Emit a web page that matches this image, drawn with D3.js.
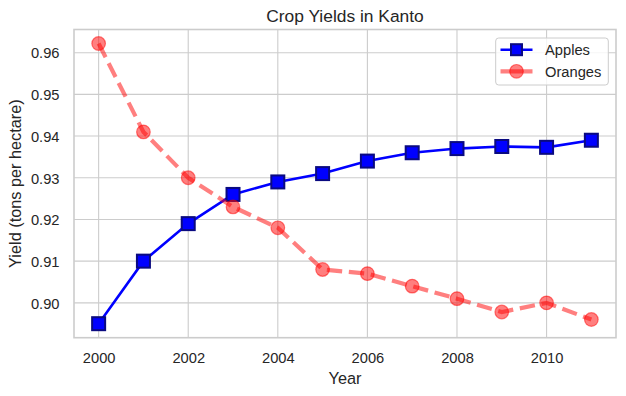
<!DOCTYPE html>
<html>
<head>
<meta charset="utf-8">
<script src="https://cdn.jsdelivr.net/npm/d3@7"></script>
<style>
  html, body { margin: 0; padding: 0; background: #fff; }
  svg { display: block; font-family: "Liberation Sans", Arial, sans-serif; }
</style>
</head>
<body>
<svg id="chart" width="626" height="396"></svg>
<script>
const years = [2000, 2001, 2002, 2003, 2004, 2005, 2006, 2007, 2008, 2009, 2010, 2011];
const apples = [0.895, 0.910, 0.919, 0.926, 0.929, 0.931, 0.934, 0.936, 0.937, 0.9375, 0.9373, 0.939];
const oranges = [0.9622, 0.941, 0.930, 0.923, 0.918, 0.908, 0.907, 0.904, 0.901, 0.8978, 0.900, 0.896];
const xTicks = [2000, 2002, 2004, 2006, 2008, 2010];
const yTicks = [0.90, 0.91, 0.92, 0.93, 0.94, 0.95, 0.96];
const seriesNames = ["Apples", "Oranges"];
const title = "Crop Yields in Kanto";
const xLabel = "Year";
const yLabel = "Yield (tons per hectare)";

const svg = d3.select("#chart");
const L = 74, R = 616, T = 29.5, B = 337.7;
const textColor = "#262626";
const gridColor = "#cccccc";
const tickFont = "14.7px", labelFont = "16.3px", titleFont = "17.4px";

const xMin = d3.min(years), xMax = d3.max(years);
const xPad = (xMax - xMin) * 0.05;
const x = d3.scaleLinear().domain([xMin - xPad, xMax + xPad]).range([L, R]);
const allY = apples.concat(oranges);
const yMin = d3.min(allY), yMax = d3.max(allY);
const yPad = (yMax - yMin) * 0.05;
const y = d3.scaleLinear().domain([yMin - yPad, yMax + yPad]).range([B, T]);

// grid
const g = svg.append("g");
g.selectAll(".vgrid").data(xTicks).enter().append("line")
  .attr("x1", d => x(d)).attr("x2", d => x(d)).attr("y1", T).attr("y2", B)
  .attr("stroke", gridColor).attr("stroke-width", 1.1);
g.selectAll(".hgrid").data(yTicks).enter().append("line")
  .attr("x1", L).attr("x2", R).attr("y1", d => y(d)).attr("y2", d => y(d))
  .attr("stroke", gridColor).attr("stroke-width", 1.1);

// axes via d3 axis (no tick lines)
const xAxis = svg.append("g").attr("transform", `translate(0,${B})`)
  .call(d3.axisBottom(x).tickValues(xTicks).tickFormat(d3.format("d")).tickSize(0).tickPadding(14.5));
const yAxis = svg.append("g").attr("transform", `translate(${L},0)`)
  .call(d3.axisLeft(y).tickValues(yTicks).tickFormat(d3.format(".2f")).tickSize(0).tickPadding(14.5));
[xAxis, yAxis].forEach(a => {
  a.select(".domain").remove();
  a.selectAll("text").attr("fill", textColor).style("font-size", tickFont)
    .style("font-family", '"Liberation Sans", Arial, sans-serif');
});
yAxis.selectAll("text").attr("dy", "0.36em");

// frame
svg.append("rect").attr("x", L).attr("y", T).attr("width", R - L).attr("height", B - T)
  .attr("fill", "none").attr("stroke", gridColor).attr("stroke-width", 1.6);

// lines
const line = d3.line().x((d, i) => x(years[i])).y(d => y(d));

// Apples
svg.append("path").datum(apples).attr("d", line)
  .attr("fill", "none").attr("stroke", "#0000ff").attr("stroke-width", 2.6);
const sq = 13;
svg.selectAll(".appleMark").data(apples).enter().append("rect")
  .attr("x", (d, i) => x(years[i]) - sq / 2).attr("y", d => y(d) - sq / 2)
  .attr("width", sq).attr("height", sq)
  .attr("fill", "#0000ff").attr("stroke", "#0a0a80").attr("stroke-width", 2);

// Oranges
svg.append("path").datum(oranges).attr("d", line)
  .attr("fill", "none").attr("stroke", "#ff0000").attr("stroke-opacity", 0.5)
  .attr("stroke-width", 4.2).attr("stroke-dasharray", "15.4,6.7");
svg.selectAll(".orangeMark").data(oranges).enter().append("circle")
  .attr("cx", (d, i) => x(years[i])).attr("cy", d => y(d)).attr("r", 6.8)
  .attr("fill", "#ff0000").attr("fill-opacity", 0.5)
  .attr("stroke", "#ff0000").attr("stroke-opacity", 0.5).attr("stroke-width", 1.2);

// title & labels
svg.append("text").attr("x", (L + R) / 2).attr("y", 22).attr("text-anchor", "middle")
  .attr("fill", textColor).style("font-size", titleFont).text(title);
svg.append("text").attr("x", (L + R) / 2).attr("y", 383.5).attr("text-anchor", "middle")
  .attr("fill", textColor).style("font-size", labelFont).text(xLabel);
svg.append("text").attr("transform", `translate(21,${(T + B) / 2}) rotate(-90)`)
  .attr("text-anchor", "middle").attr("fill", textColor).style("font-size", labelFont).text(yLabel);

// legend
const lg = svg.append("g");
lg.append("rect").attr("x", 495.7).attr("y", 38).attr("width", 112.6).attr("height", 47)
  .attr("rx", 3).attr("fill", "#ffffff").attr("fill-opacity", 0.8)
  .attr("stroke", "#cccccc").attr("stroke-width", 1);
const rows = [49.7, 71.3];
// Apples entry
lg.append("line").attr("x1", 500.5).attr("x2", 532.5).attr("y1", rows[0]).attr("y2", rows[0])
  .attr("stroke", "#0000ff").attr("stroke-width", 2.6);
lg.append("rect").attr("x", 516.5 - 5.5).attr("y", rows[0] - 5.5).attr("width", 11).attr("height", 11)
  .attr("fill", "#0000ff").attr("stroke", "#0a0a80").attr("stroke-width", 2);
// Oranges entry
lg.append("line").attr("x1", 500.5).attr("x2", 532.5).attr("y1", rows[1]).attr("y2", rows[1])
  .attr("stroke", "#ff0000").attr("stroke-opacity", 0.5).attr("stroke-width", 4.2);
lg.append("circle").attr("cx", 516.5).attr("cy", rows[1]).attr("r", 6.8)
  .attr("fill", "#ff0000").attr("fill-opacity", 0.5)
  .attr("stroke", "#ff0000").attr("stroke-opacity", 0.5).attr("stroke-width", 1.2);
lg.selectAll(".lt").data(seriesNames).enter().append("text")
  .attr("x", 545).attr("y", (d, i) => rows[i]).attr("dy", "0.36em")
  .attr("fill", textColor).style("font-size", tickFont).text(d => d);
</script>
</body>
</html>
